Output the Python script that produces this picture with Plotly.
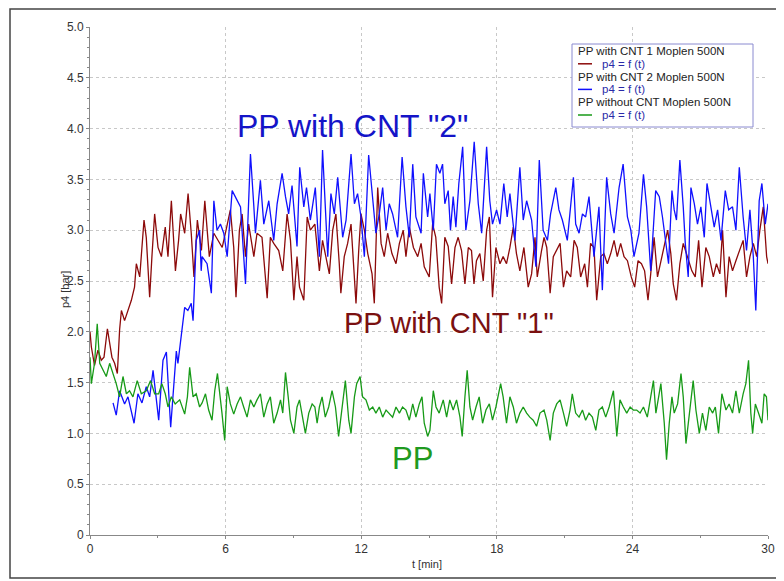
import plotly.graph_objects as go

# ---------------- data ----------------
t_cnt1 = [0, 0.06, 0.2, 0.35, 0.5, 0.62, 0.77, 0.87, 0.97, 1.09, 1.21, 1.31, 1.39, 1.53, 1.68, 1.83, 1.97, 2.05, 2.2, 2.39,
          2.49, 2.64, 2.74, 2.86, 3.01, 3.16, 3.33, 3.45, 3.6, 3.78, 3.92, 4.01, 4.19, 4.34, 4.48, 4.6, 4.75, 4.93,
          5.08, 5.18, 5.28, 5.48, 5.67, 5.85, 6.02, 6.21, 6.36, 6.46, 6.61, 6.73, 6.88, 7.02, 7.25, 7.39, 7.61, 7.84,
          7.98, 8.13, 8.35, 8.53, 8.72, 8.87, 9.02, 9.16, 9.27, 9.46, 9.61, 9.75, 9.95,
          10.15, 10.29, 10.44, 10.59, 10.74, 10.88, 11.03, 11.1, 11.25, 11.4, 11.55, 11.65, 11.77, 11.89, 11.99, 12.14,
          12.29, 12.48, 12.58, 12.73, 12.88, 13.02, 13.17, 13.36, 13.54, 13.69, 13.86, 13.98, 14.13, 14.31, 14.5, 14.65,
          14.79, 15.01, 15.16, 15.3, 15.45, 15.56, 15.7, 15.85, 16.0, 16.15, 16.29, 16.44, 16.59, 16.74, 16.88, 16.99,
          17.1, 17.25, 17.4, 17.55, 17.67, 17.81, 17.96, 18.14, 18.28, 18.43, 18.58, 18.73, 18.87, 19.02, 19.2, 19.39,
          19.54, 19.69, 19.79, 19.98, 20.09, 20.21, 20.36, 20.5, 20.65, 20.8, 20.95, 21.09, 21.27, 21.42, 21.56, 21.71,
          21.89, 22.01, 22.15, 22.3, 22.42, 22.6, 22.74, 22.89, 23.04, 23.19, 23.33, 23.48, 23.63, 23.78, 23.95, 24.1,
          24.25, 24.4, 24.54, 24.69, 24.81, 24.96, 25.11, 25.26, 25.41, 25.56, 25.7, 25.81, 25.95, 26.1, 26.25, 26.44,
          26.63, 26.78, 26.93, 27.08, 27.25, 27.4, 27.58, 27.72, 27.87, 27.99, 28.14, 28.28, 28.43, 28.58, 28.73, 28.9,
          29.05, 29.2, 29.35, 29.5, 29.64, 29.79, 29.94, 30.0]
p4_cnt1 = [2.0, 1.85, 1.67, 1.82, 1.72, 1.75, 2.03, 1.88, 1.75, 1.69, 1.59, 2.02, 2.21, 2.11, 2.21, 2.31, 2.44, 2.67, 2.54, 3.1,
           2.93, 2.34, 2.74, 3.16, 2.83, 2.74, 3.03, 2.74, 3.29, 2.6, 2.9, 3.16, 2.97, 3.36, 2.97, 2.54, 3.1, 2.8,
           3.29, 3.03, 2.74, 2.97, 2.9, 2.83, 3.0, 3.2, 2.83, 2.34, 3.0, 3.16, 2.74, 3.06, 2.74, 2.97, 2.93, 2.33,
           2.93, 2.87, 2.8, 2.6, 3.16, 2.9, 2.31, 2.74, 2.44, 2.31, 3.13, 3.0, 3.06,
           2.6, 2.9, 2.74, 2.57, 3.0, 3.16, 2.67, 2.38, 2.74, 2.87, 3.06, 2.74, 2.28, 2.8, 3.16, 3.0,
           2.77, 2.57, 2.28, 3.42, 2.87, 2.74, 2.97, 2.77, 2.67, 2.87, 3.0, 2.74, 3.03, 2.83, 2.74, 2.87,
           2.64, 2.54, 3.06, 2.93, 2.44, 2.28, 2.93, 2.84, 2.47, 2.83, 2.93, 2.8, 2.47, 2.83, 2.8, 2.47,
           2.7, 2.77, 2.5, 3.0, 3.13, 2.34, 2.83, 2.67, 2.74, 2.67, 2.83, 3.03, 2.77, 2.6, 2.83, 2.44,
           2.57, 2.93, 2.54, 2.8, 2.93, 2.83, 2.38, 2.74, 2.8, 2.87, 2.44, 2.6, 2.54, 2.9, 2.83, 2.54,
           2.67, 2.44, 2.87, 2.83, 2.31, 2.74, 2.77, 2.67, 2.77, 2.9, 2.74, 2.87, 2.74, 2.7, 2.54, 2.44,
           2.7, 2.67, 2.6, 2.31, 2.57, 2.93, 2.54, 2.7, 2.84, 3.0, 2.77, 2.47, 2.31, 2.67, 2.87, 2.74,
           2.6, 2.54, 2.9, 2.44, 2.83, 2.74, 2.54, 2.67, 2.57, 3.0, 2.34, 2.74, 2.6, 2.7, 2.8, 2.9,
           2.54, 2.74, 2.87, 2.74, 3.0, 3.23, 2.74, 2.67]

t_cnt2 = [1.02, 1.16, 1.31, 1.53, 1.68, 1.95, 2.12, 2.3, 2.49, 2.64, 2.79, 3.04, 3.23, 3.38, 3.57, 3.82, 3.89, 4.11, 4.19,
          4.33, 4.48, 4.56, 4.63, 4.7, 4.85, 4.92, 4.96, 5.18, 5.37, 5.48, 5.62, 5.77, 5.92, 6.07, 6.29, 6.43, 6.66,
          6.88, 7.1, 7.25, 7.32, 7.54, 7.69, 7.91, 8.13, 8.28, 8.5, 8.65, 8.79, 8.94, 9.16, 9.28, 9.46, 9.58, 9.75,
          9.97, 10.15, 10.29, 10.52, 10.66, 10.81, 10.96, 11.18, 11.33, 11.55, 11.7, 11.84, 11.99, 12.14, 12.33, 12.51,
          12.65, 12.8, 12.95, 13.1, 13.24, 13.39, 13.61, 13.81, 13.98, 14.13, 14.28, 14.42, 14.65, 14.75, 14.94, 15.04,
          15.19, 15.33, 15.48, 15.6, 15.7, 15.85, 15.95, 16.07, 16.19, 16.32, 16.49, 16.63, 16.81, 17.0, 17.18, 17.33,
          17.55, 17.69, 17.81, 17.99, 18.14, 18.31, 18.46, 18.58, 18.8, 19.02, 19.17, 19.32, 19.54, 19.73, 19.88, 20.05,
          20.24, 20.38, 20.61, 20.75, 20.9, 21.12, 21.39, 21.49, 21.64, 21.79, 21.93, 22.08, 22.3, 22.52, 22.67, 22.86,
          23.04, 23.19, 23.41, 23.59, 23.78, 23.93, 24.07, 24.29, 24.49, 24.63, 24.81, 25.03, 25.19, 25.33, 25.48, 25.6,
          25.75, 25.85, 25.95, 26.1, 26.25, 26.34, 26.47, 26.59, 26.74, 26.88, 27.03, 27.18, 27.3, 27.47, 27.62, 27.77,
          27.92, 28.11, 28.26, 28.43, 28.58, 28.73, 28.9, 29.05, 29.2, 29.35, 29.46, 29.61, 29.73, 29.88, 30.0]
p4_cnt2 = [1.3, 1.18, 1.42, 1.29, 1.36, 1.1, 1.39, 1.3, 1.46, 1.36, 1.62, 1.13, 1.72, 1.8, 1.06, 1.81, 1.69, 2.08, 2.24,
           2.21, 2.28, 2.11, 2.47, 2.9, 3.0, 2.6, 2.74, 2.67, 2.38, 3.29, 3.0, 3.06, 2.97, 2.74, 3.39, 3.33, 3.23,
           2.47, 3.75, 3.23, 2.97, 3.49, 3.06, 3.29, 2.9, 3.26, 3.56, 3.33, 3.16, 3.44, 2.84, 3.62, 3.23, 3.42, 3.1,
           3.42, 2.74, 3.79, 2.74, 3.36, 3.16, 3.52, 2.93, 3.1, 3.75, 3.26, 3.36, 3.13, 2.74, 3.74, 3.26,
           2.97, 3.16, 3.42, 3.0, 3.26, 3.16, 2.93, 3.72, 3.23, 2.93, 3.65, 3.13, 2.97, 3.56, 3.13, 3.36,
           3.0, 3.65, 3.56, 3.65, 3.26, 3.39, 3.0, 3.33, 3.03, 3.46, 3.82, 3.0, 3.29, 3.87, 3.26, 2.97,
           3.82, 3.29, 3.06, 3.2, 3.06, 3.46, 3.13, 3.36, 2.9, 3.62, 3.1, 3.29, 3.1, 2.64, 3.69, 3.0,
           2.9, 3.16, 3.42, 3.2, 3.1, 2.9, 3.52, 3.06, 2.97, 3.16, 3.13, 3.33, 2.74, 3.23, 2.41, 3.52,
           3.16, 2.97, 3.42, 3.65, 3.13, 3.0, 2.74, 2.97, 3.55, 3.23, 2.6, 3.39, 3.33, 3.13, 2.84, 2.67,
           3.39, 3.2, 3.1, 3.69, 3.23, 2.87, 2.54, 3.42, 3.26, 3.06, 3.23, 2.93, 3.46, 3.23, 3.03, 3.2,
           2.9, 3.39, 3.2, 3.23, 3.0, 3.62, 3.13, 2.8, 3.2, 2.74, 2.21, 3.29, 3.46, 3.06, 3.26]

t_pp = [0, 0.06, 0.2, 0.32, 0.43, 0.57, 0.72, 0.87, 1.02, 1.16, 1.31, 1.46, 1.61, 1.75, 1.9, 2.09, 2.27, 2.49, 2.68, 2.86,
        3.04, 3.18, 3.33, 3.45, 3.6, 3.77, 3.97, 4.19, 4.31, 4.41, 4.56, 4.7, 4.85, 4.96, 5.11, 5.25, 5.4, 5.52, 5.64,
        5.77, 5.84, 5.96, 6.07, 6.21, 6.36, 6.51, 6.66, 6.8, 6.95, 7.1, 7.25, 7.39, 7.54, 7.69, 7.84, 7.98, 8.13, 8.28,
        8.43, 8.53, 8.65, 8.77, 8.87, 9.02, 9.16, 9.27, 9.39, 9.53, 9.68, 9.83, 9.95, 10.05, 10.15, 10.27, 10.41, 10.56,
        10.71, 10.86, 11.0, 11.15, 11.3, 11.45, 11.55, 11.7, 11.8, 11.95, 12.06, 12.21, 12.36, 12.51, 12.65, 12.8,
        12.95, 13.1, 13.24, 13.39, 13.54, 13.69, 13.83, 13.98, 14.13, 14.28, 14.42, 14.57, 14.69, 14.79, 14.94, 15.04,
        15.19, 15.31, 15.45, 15.63, 15.78, 15.92, 16.07, 16.22, 16.37, 16.47, 16.59, 16.69, 16.81, 16.93, 17.08, 17.22,
        17.37, 17.52, 17.67, 17.81, 17.96, 18.17, 18.28, 18.43, 18.58, 18.73, 18.87, 19.02, 19.17, 19.32, 19.46, 19.61,
        19.76, 19.91, 20.09, 20.21, 20.36, 20.5, 20.65, 20.8, 20.95, 21.09, 21.24, 21.34, 21.49, 21.64, 21.79, 21.93,
        22.08, 22.23, 22.38, 22.52, 22.67, 22.82, 22.97, 23.16, 23.31, 23.45, 23.6, 23.75, 23.9, 24.04, 24.19, 24.34,
        24.49, 24.66, 24.81, 24.93, 25.04, 25.16, 25.26, 25.41, 25.51, 25.63, 25.75, 25.85, 26.0, 26.15, 26.25, 26.37,
        26.51, 26.69, 26.81, 26.96, 27.1, 27.25, 27.4, 27.55, 27.67, 27.81, 27.96, 28.14, 28.28, 28.43, 28.58, 28.73,
        28.9, 29.02, 29.14, 29.24, 29.32, 29.44, 29.58, 29.73, 29.83, 29.93, 30.0]
p4_pp = [1.75, 1.49, 1.69, 2.08, 1.69, 1.62, 1.56, 1.69, 1.59, 1.49, 1.36, 1.56, 1.39, 1.42, 1.36, 1.52, 1.39, 1.42, 1.52, 1.39,
         1.39, 1.49, 1.39, 1.26, 1.36, 1.29, 1.33, 1.19, 1.36, 1.65, 1.36, 1.39, 1.26, 1.3, 1.39, 1.23, 1.13, 1.42, 1.59,
         1.36, 1.2, 0.93, 1.46, 1.29, 1.19, 1.29, 1.36, 1.26, 1.16, 1.33, 1.26, 1.33, 1.39, 1.16, 1.29, 1.36, 1.1, 1.2,
         1.33, 1.2, 1.6, 1.36, 1.13, 1.0, 1.26, 1.33, 1.16, 1.0, 1.2, 1.29, 1.26, 1.1, 1.26, 1.36, 1.16, 1.26,
         1.42, 1.26, 0.97, 1.23, 1.52, 1.13, 1.0, 1.36, 1.49, 1.56, 1.36, 1.33, 1.23, 1.26, 1.2, 1.26,
         1.16, 1.23, 1.2, 1.16, 1.26, 1.2, 1.26, 1.23, 1.13, 1.29, 1.16, 1.29, 1.36, 1.1, 0.97, 1.03,
         1.42, 1.26, 1.2, 1.33, 1.16, 1.33, 1.23, 1.33, 1.16, 0.97, 1.36, 1.62, 1.26, 1.13, 1.26, 1.36,
         1.1, 1.23, 1.29, 1.13, 1.26, 1.49, 1.36, 1.1, 1.36, 1.26, 1.1, 1.2, 1.26, 1.2, 1.16, 1.13,
         1.07, 1.2, 1.23, 1.13, 0.93, 1.2, 1.29, 1.33, 1.2, 1.07, 1.23, 1.39, 1.2, 1.16, 1.23, 1.13,
         1.2, 1.16, 1.03, 1.23, 1.26, 1.16, 1.26, 1.42, 0.97, 1.33, 1.26, 1.2, 1.26, 1.23, 1.23, 1.2,
         1.26, 1.16, 1.36, 1.52, 1.2, 1.36, 1.49, 1.1, 0.74, 1.1, 1.36, 1.2, 1.29, 1.59, 1.36, 0.9,
         1.16, 1.52, 1.23, 1.0, 1.2, 1.03, 1.26, 1.2, 1.26, 1.0, 1.39, 1.23, 1.29, 1.2, 1.42, 1.2,
         1.39, 1.49, 1.72, 1.2, 1.0, 1.29, 1.2, 1.1, 1.39, 1.36, 1.13]

group_titles = ["PP with CNT 1 Moplen 500N", "PP with CNT 2 Moplen 500N", "PP without CNT Moplen 500N"]
item_name = "p4 = f (t)"
y_ticks = [0, 0.5, 1.0, 1.5, 2.0, 2.5, 3.0, 3.5, 4.0, 4.5, 5.0]
y_tick_text = ["0", "0.5", "1.0", "1.5", "2.0", "2.5", "3.0", "3.5", "4.0", "4.5", "5.0"]
x_ticks = [0, 6, 12, 18, 24, 30]

FONT = "Liberation Sans, Arial, sans-serif"
RED = "#8c0a0a"
BLUE = "#1010ff"
GREEN = "#179a17"
colors = [RED, BLUE, GREEN]

# the page has an 8 px body margin: size the figure so the plot lands where the original's is
OFF = 8
W, H = 784 - OFF, 581 - OFF
PL, PR, PT, PB = 90, 768, 27, 535          # plot area in page pixels
L, R, T, B = PL - OFF, W - (PR - OFF), PT - OFF, H - (PB - OFF)


def px(x):
    return (x - PL) / (PR - PL)


def py(y):
    return (PB - y) / (PB - PT)


fig = go.Figure()
for t, v, col in [(t_cnt1, p4_cnt1, RED), (t_cnt2, p4_cnt2, BLUE), (t_pp, p4_pp, GREEN)]:
    fig.add_trace(go.Scatter(x=t, y=v, mode="lines", line=dict(color=col, width=1.3),
                             name=item_name, showlegend=False))

# in-plot labels
fig.add_annotation(x=11.6, y=4.03, text='PP with CNT "2"', showarrow=False,
                   font=dict(size=32, color="#1414c8", family=FONT))
fig.add_annotation(x=15.9, y=2.09, text='PP with CNT "1"', showarrow=False,
                   font=dict(size=29, color="#7a1010", family=FONT))
fig.add_annotation(x=14.25, y=0.75, text='PP', showarrow=False,
                   font=dict(size=31, color="#1f9a1f", family=FONT))

# legend box (drawn by hand to match the compact original)
fig.add_shape(type="rect", xref="paper", yref="paper", x0=px(572), x1=px(753), y0=py(127), y1=py(44),
              line=dict(color="#8a8ad0", width=1), fillcolor="white", layer="above")
row_y = [(51, 63.8), (76.6, 89.4), (102.2, 115)]
for i, (ty, iy) in enumerate(row_y):
    fig.add_annotation(xref="paper", yref="paper", x=px(577), y=py(ty), xanchor="left", yanchor="middle",
                       text=group_titles[i], showarrow=False, borderpad=0,
                       font=dict(size=11.5, color="#222222", family=FONT))
    fig.add_shape(type="line", xref="paper", yref="paper", x0=px(578), x1=px(592), y0=py(iy), y1=py(iy),
                  line=dict(color=colors[i], width=1.5), layer="above")
    fig.add_annotation(xref="paper", yref="paper", x=px(601), y=py(iy), xanchor="left", yanchor="middle",
                       text=item_name, showarrow=False, borderpad=0,
                       font=dict(size=11.5, color="#2a2aa8", family=FONT))

# axis titles
fig.add_annotation(xref="paper", yref="paper", x=px(65), y=py(290), text="p4 [bar]", textangle=-90,
                   xanchor="center", yanchor="middle",
                   showarrow=False, font=dict(size=11, color="#333333", family=FONT))
fig.add_annotation(xref="paper", yref="paper", x=px(427), y=py(564), text="t [min]",
                   xanchor="center", yanchor="middle",
                   showarrow=False, font=dict(size=11, color="#333333", family=FONT))

# outer frame of the picture
fig.add_shape(type="rect", xref="paper", yref="paper", x0=px(10), x1=px(778), y0=py(578), y1=py(9),
              line=dict(color="#444444", width=1.5), layer="below")

fig.update_layout(
    width=W, height=H,
    margin=dict(l=L, r=R, t=T, b=B),
    paper_bgcolor="white", plot_bgcolor="white",
    font=dict(family=FONT, size=11, color="#333333"),
    showlegend=False,
    xaxis=dict(range=[0, 30], tickvals=x_ticks, showgrid=True, gridcolor="#c8c8c8", griddash="dot",
               showline=True, linecolor="#888888", ticks="outside", ticklen=3, tickcolor="#888888",
               zeroline=False, automargin=False,
               tickfont=dict(size=12, color="#333333"),
               minor=dict(dtick=3, ticks="outside", ticklen=2, tickcolor="#888888")),
    yaxis=dict(range=[0, 5], tickvals=y_ticks, ticktext=y_tick_text, showgrid=True, gridcolor="#c8c8c8",
               griddash="dot", showline=True, linecolor="#888888", ticks="outside", ticklen=3,
               tickcolor="#888888", zeroline=False, automargin=False,
               tickfont=dict(size=12, color="#333333"),
               minor=dict(dtick=0.1, ticks="outside", ticklen=2, tickcolor="#888888")),
)

fig.write_html("out.html")
